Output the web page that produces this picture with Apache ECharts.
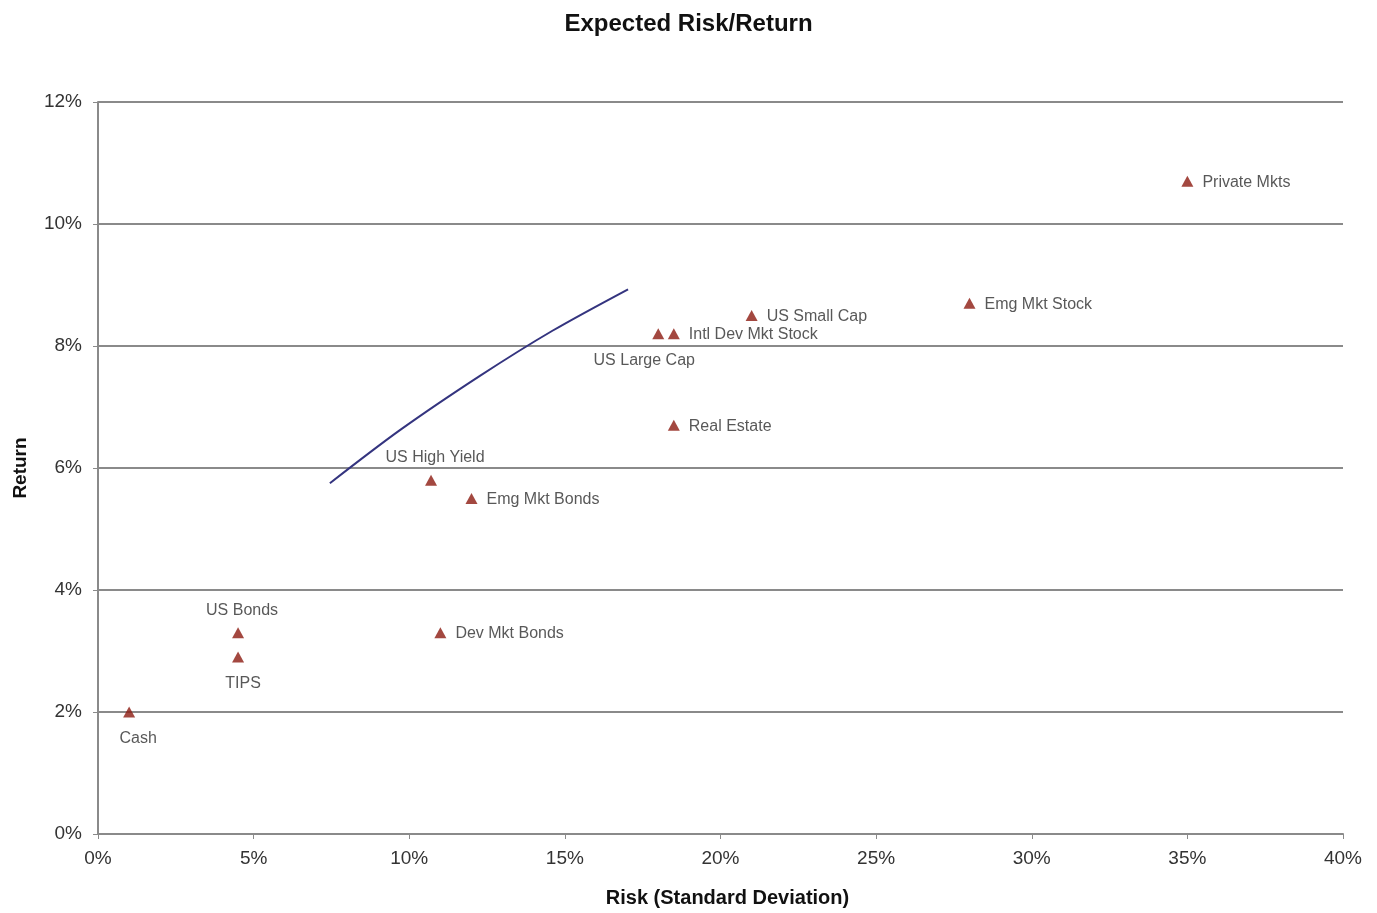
<!DOCTYPE html>
<html>
<head>
<meta charset="utf-8">
<title>Expected Risk/Return</title>
<script src="https://cdn.jsdelivr.net/npm/echarts@6/dist/echarts.min.js"></script>
<style>
  html, body { margin: 0; padding: 0; background: #ffffff; }
  #chart { width: 1377px; height: 913px; }
</style>
</head>
<body>
<div id="chart"></div>
<script>
// Asset classes: expected risk (std dev, %) and expected return (%)
const assetNames = ['Cash', 'US Bonds', 'TIPS', 'Dev Mkt Bonds', 'US High Yield', 'Emg Mkt Bonds',
  'US Large Cap', 'Intl Dev Mkt Stock', 'Real Estate', 'US Small Cap', 'Emg Mkt Stock', 'Private Mkts'];
const assetRisk   = [1.0, 4.5, 4.5, 11.0, 10.7, 12.0, 18.0, 18.5, 18.5, 21.0, 28.0, 35.0];
const assetReturn = [2.0, 3.3, 2.9, 3.3, 5.8, 5.5, 8.2, 8.2, 6.7, 8.5, 8.7, 10.7];
// where each label sits relative to its marker
const labelPlacement = ['belowCash', 'above', 'belowTips', 'right', 'above', 'right',
  'belowLeft', 'right', 'right', 'right', 'right', 'right'];

// Efficient frontier curve
const frontierRisk   = [7.45, 9.70, 12.27, 14.60, 17.03];
const frontierReturn = [5.75, 6.62, 7.51, 8.25, 8.93];

// Axis ranges and tick steps
const xMin = 0, xMax = 40, xStep = 5;
const yMin = 0, yMax = 12, yStep = 2;

const FONT = '"Liberation Sans", Arial, sans-serif';

function labelFor(kind) {
  const base = { show: true, color: '#2e2e2e', fontSize: 16, fontFamily: FONT, formatter: p => p.data.name };
  switch (kind) {
    case 'above': return Object.assign(base, { position: 'top', distance: 8, offset: [4, -1] });
    case 'belowTips': return Object.assign(base, { position: 'bottom', distance: 8, offset: [5, 5] });
    case 'belowCash': return Object.assign(base, { position: 'bottom', distance: 8, offset: [9, 5] });
    case 'belowLeft': return Object.assign(base, { position: 'bottom', distance: 8, offset: [-14, 5] });
    default: return Object.assign(base, { position: 'right', distance: 8, offset: [1, 1] });
  }
}

const assetData = assetNames.map((n, i) => ({
  name: n,
  value: [assetRisk[i], assetReturn[i]],
  label: labelFor(labelPlacement[i])
}));

const frontierData = frontierRisk.map((x, i) => [x, frontierReturn[i]]);

const chart = echarts.init(document.getElementById('chart'), null, { renderer: 'canvas' });
chart.setOption({
  backgroundColor: '#ffffff',
  animation: false,
  title: {
    text: 'Expected Risk/Return',
    left: 'center',
    top: 7,
    textStyle: { fontFamily: FONT, fontSize: 24, fontWeight: 'bold', color: '#111' }
  },
  grid: { left: 98, right: 34, top: 102, bottom: 79, containLabel: false },
  xAxis: {
    type: 'value',
    min: xMin, max: xMax, interval: xStep,
    name: 'Risk (Standard Deviation)',
    nameLocation: 'middle',
    nameGap: 54,
    nameTextStyle: { fontFamily: FONT, fontSize: 20, fontWeight: 'bold', color: '#111', padding: [0, 0, 0, 14] },
    axisLine: { show: true, lineStyle: { color: '#8a8a8a', width: 2 } },
    axisTick: { show: true, inside: false, length: 5, lineStyle: { color: '#8a8a8a', width: 1 } },
    axisLabel: { formatter: v => v + '%', fontFamily: FONT, fontSize: 19, color: '#333', margin: 15 },
    splitLine: { show: false }
  },
  yAxis: {
    type: 'value',
    min: yMin, max: yMax, interval: yStep,
    name: 'Return',
    nameLocation: 'middle',
    nameGap: 68,
    nameRotate: 90,
    nameTextStyle: { fontFamily: FONT, fontSize: 19, fontWeight: 'bold', color: '#111' },
    axisLine: { show: true, lineStyle: { color: '#8a8a8a', width: 2 } },
    axisTick: { show: true, inside: false, length: 5, lineStyle: { color: '#8a8a8a', width: 1 } },
    axisLabel: { formatter: v => v + '%', fontFamily: FONT, fontSize: 19, color: '#333', margin: 16 },
    splitLine: { show: true, lineStyle: { color: '#8a8a8a', width: 2 } }
  },
  series: [
    {
      name: 'Efficient Frontier',
      type: 'line',
      data: frontierData,
      smooth: 0.3,
      showSymbol: false,
      lineStyle: { color: '#34347f', width: 2 },
      z: 3
    },
    {
      name: 'Asset Classes',
      type: 'scatter',
      data: assetData,
      symbol: 'triangle',
      symbolSize: [12, 11],
      itemStyle: { color: '#8c1a10' },
      z: 4
    }
  ]
});
</script>
</body>
</html>
